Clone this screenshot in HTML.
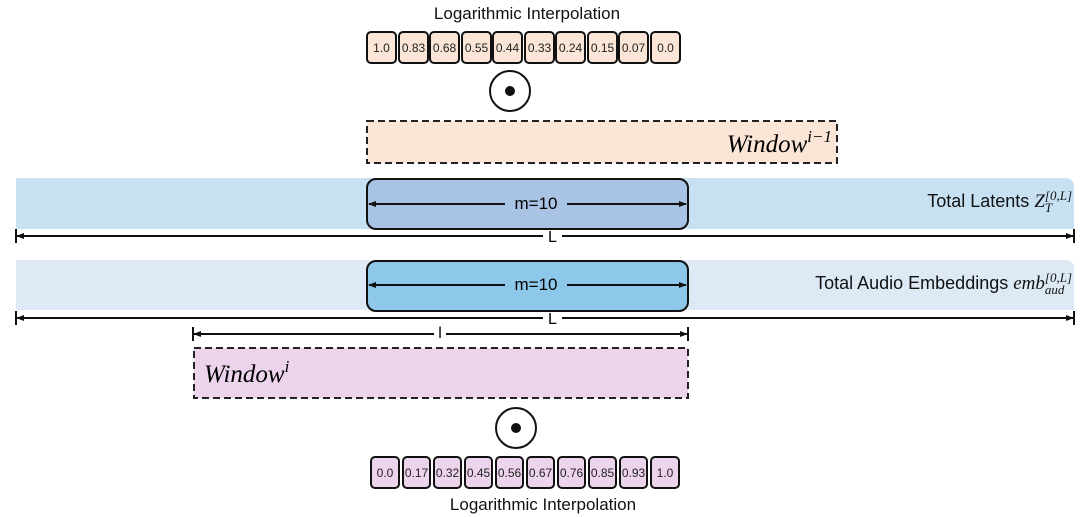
<!DOCTYPE html>
<html><head><style>
body{margin:0;width:1080px;height:517px;background:#fff;overflow:hidden;position:relative;font-family:"Liberation Sans",sans-serif}
.a{position:absolute}
.cell{position:absolute;height:33px;border:2px solid #111;border-radius:5px;box-sizing:border-box;font-size:12px;display:flex;align-items:center;justify-content:center;color:#222}
.m{font-family:"Liberation Serif",serif;font-style:italic}
</style></head><body>
<div class="a" style="left:0;width:1054px;top:4px;text-align:center;font-size:17px;color:#111">Logarithmic Interpolation</div>
<svg class="a" style="left:0;top:0" width="1080" height="517">
<defs>
<marker id="ar" markerWidth="8" markerHeight="6" refX="7" refY="3" orient="auto-start-reverse" markerUnits="userSpaceOnUse"><path d="M0 0 L8 3 L0 6 Z" fill="#111"/></marker>
</defs>
<circle cx="510" cy="91" r="20" fill="#fff" stroke="#111" stroke-width="2"/>
<circle cx="510" cy="91" r="5" fill="#111"/>
<rect x="367" y="121" width="470" height="42" fill="#fbe5d6" stroke="#222" stroke-width="2" stroke-dasharray="7,4"/>
<path d="M16 178 H1066 a8 8 0 0 1 8 8 V229 H16 Z" fill="#c7e1f2"/>
<rect x="367" y="179" width="321" height="50" rx="9" fill="#a9c3e5" stroke="#111" stroke-width="2"/>
<path d="M16 260 H1066 a8 8 0 0 1 8 8 V310 H16 Z" fill="#dde9f5"/>
<rect x="367" y="261" width="321" height="50" rx="9" fill="#8dc8ea" stroke="#111" stroke-width="2"/>
<g stroke="#111" stroke-width="2" fill="#111">
<line x1="369" y1="204" x2="505" y2="204" marker-start="url(#ar)"/><line x1="567" y1="204" x2="686" y2="204" marker-end="url(#ar)"/>
<line x1="369" y1="285" x2="505" y2="285" marker-start="url(#ar)"/><line x1="567" y1="285" x2="686" y2="285" marker-end="url(#ar)"/>
<line x1="17" y1="236" x2="543" y2="236" marker-start="url(#ar)"/><line x1="562" y1="236" x2="1073" y2="236" marker-end="url(#ar)"/>
<line x1="16" y1="229" x2="16" y2="243"/><line x1="1074" y1="229" x2="1074" y2="243"/>
<line x1="17" y1="318" x2="543" y2="318" marker-start="url(#ar)"/><line x1="562" y1="318" x2="1073" y2="318" marker-end="url(#ar)"/>
<line x1="16" y1="311" x2="16" y2="325"/><line x1="1074" y1="311" x2="1074" y2="325"/>
<line x1="194" y1="334" x2="434" y2="334" marker-start="url(#ar)"/><line x1="446" y1="334" x2="687" y2="334" marker-end="url(#ar)"/>
<line x1="193" y1="327" x2="193" y2="341"/><line x1="688" y1="327" x2="688" y2="341"/>
</g>
<rect x="194" y="348" width="494" height="50" fill="#ecd4ec" stroke="#222" stroke-width="2" stroke-dasharray="7,4"/>
<circle cx="516" cy="428" r="20" fill="#fff" stroke="#111" stroke-width="2"/>
<circle cx="516" cy="428" r="5" fill="#111"/>
</svg>
<div class="a" style="left:505px;width:62px;top:194px;text-align:center;font-size:17px">m=10</div>
<div class="a" style="left:505px;width:62px;top:275px;text-align:center;font-size:17px">m=10</div>
<div class="a" style="left:543px;width:19px;top:229px;text-align:center;font-size:16px">L</div>
<div class="a" style="left:543px;width:19px;top:311px;text-align:center;font-size:16px">L</div>
<div class="a" style="left:434px;width:12px;top:325px;text-align:center;font-size:16px">l</div>
<div class="a m" style="right:248px;top:127px;font-size:25px">Window<sup style="font-size:17px;vertical-align:10px">i−1</sup></div>
<div class="a m" style="left:204px;top:357px;font-size:25px">Window<sup style="font-size:17px;vertical-align:10px">i</sup></div>
<div class="a" style="right:8px;top:190px;font-size:18px;color:#111">Total Latents <span class="m" style="font-size:19px">Z</span><span class="m" style="display:inline-block;font-size:13px;vertical-align:middle;line-height:12px;text-align:left">[0,<i>L</i>]<br>T</span></div>
<div class="a" style="right:8px;top:272px;font-size:18px;color:#111">Total Audio Embeddings <span class="m" style="font-size:19px">emb</span><span class="m" style="display:inline-block;font-size:13px;vertical-align:middle;line-height:12px;text-align:left">[0,<i>L</i>]<br>aud</span></div>
<div class="a" style="left:400px;width:286px;top:495px;text-align:center;font-size:17px;color:#111">Logarithmic Interpolation</div>
<div class="cell" style="left:366px;top:31px;width:31px;background:#fbe5d6">1.0</div>
<div class="cell" style="left:398px;top:31px;width:31px;background:#fbe5d6">0.83</div>
<div class="cell" style="left:429px;top:31px;width:31px;background:#fbe5d6">0.68</div>
<div class="cell" style="left:461px;top:31px;width:31px;background:#fbe5d6">0.55</div>
<div class="cell" style="left:492px;top:31px;width:31px;background:#fbe5d6">0.44</div>
<div class="cell" style="left:524px;top:31px;width:31px;background:#fbe5d6">0.33</div>
<div class="cell" style="left:555px;top:31px;width:31px;background:#fbe5d6">0.24</div>
<div class="cell" style="left:587px;top:31px;width:31px;background:#fbe5d6">0.15</div>
<div class="cell" style="left:618px;top:31px;width:31px;background:#fbe5d6">0.07</div>
<div class="cell" style="left:650px;top:31px;width:31px;background:#fbe5d6">0.0</div>
<div class="cell" style="left:370px;top:456px;width:30px;background:#ecd4ec">0.0</div>
<div class="cell" style="left:402px;top:456px;width:29px;background:#ecd4ec">0.17</div>
<div class="cell" style="left:433px;top:456px;width:29px;background:#ecd4ec">0.32</div>
<div class="cell" style="left:464px;top:456px;width:29px;background:#ecd4ec">0.45</div>
<div class="cell" style="left:495px;top:456px;width:29px;background:#ecd4ec">0.56</div>
<div class="cell" style="left:526px;top:456px;width:29px;background:#ecd4ec">0.67</div>
<div class="cell" style="left:557px;top:456px;width:29px;background:#ecd4ec">0.76</div>
<div class="cell" style="left:588px;top:456px;width:29px;background:#ecd4ec">0.85</div>
<div class="cell" style="left:619px;top:456px;width:29px;background:#ecd4ec">0.93</div>
<div class="cell" style="left:650px;top:456px;width:30px;background:#ecd4ec">1.0</div>
</body></html>
